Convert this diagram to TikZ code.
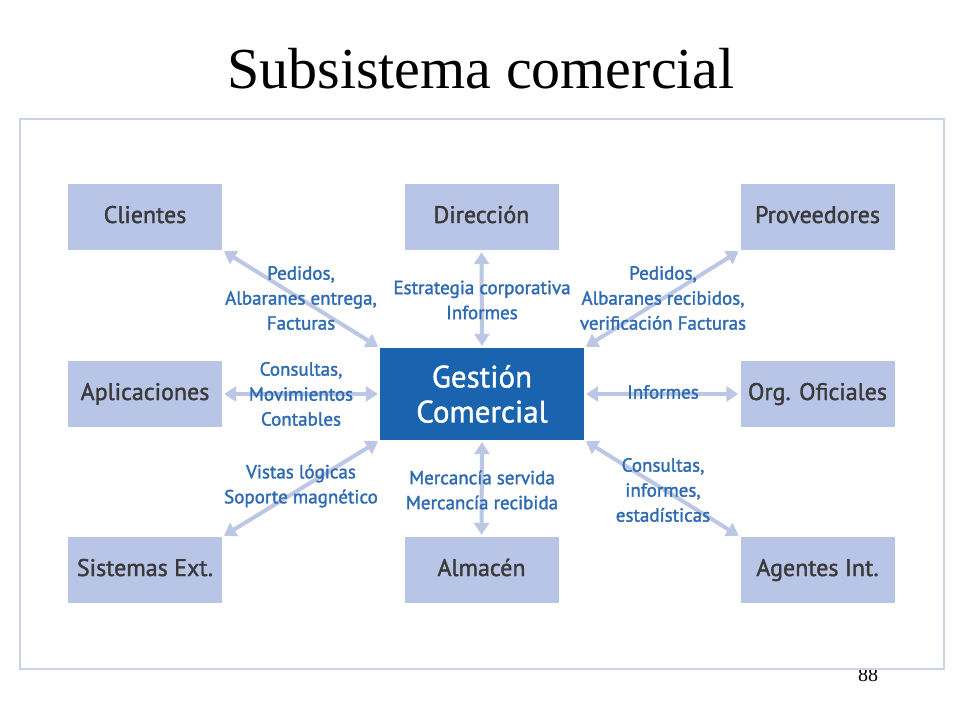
\documentclass[tikz,border=0pt]{standalone}
\usepackage{fontspec}
\setmainfont{Liberation Serif}
\newfontfamily\lblfont{PT Sans}[FakeBold=1.6]
\newfontfamily\ctrfont{PT Sans}[FakeBold=1.2]
\usetikzlibrary{arrows.meta}
\definecolor{boxfill}{HTML}{B9C5E6}
\definecolor{arrowc}{HTML}{BCC7E6}
\definecolor{frame}{HTML}{CDD2EC}
\definecolor{centerblue}{HTML}{1A64AF}
\definecolor{lblblue}{HTML}{2E6BB3}
\definecolor{boxtext}{HTML}{3A3A3A}
\tikzset{
  outerbox/.style={minimum width=154pt,minimum height=66pt,fill=boxfill,draw=none,inner sep=0pt,
     text height=17pt,text depth=5pt,
     text=boxtext,font=\lblfont\fontsize{24}{26}\selectfont},
  centerbox/.style={minimum width=204pt,minimum height=92pt,fill=centerblue,draw=none,inner sep=0pt,
     text=white,align=center,font=\ctrfont\fontsize{31}{35}\selectfont},
  conn/.style={draw=arrowc,line width=4pt,{Triangle[width=15pt,length=12pt]}-{Triangle[width=15pt,length=12pt]},shorten >=2pt,shorten <=2pt},
  lbl/.style={text=lblblue,align=center,font=\lblfont\fontsize{19}{25}\selectfont,inner sep=0pt}
}
\begin{document}
\begin{tikzpicture}[x=1pt,y=-1pt]
\useasboundingbox[fill=white] (0,0) rectangle (960,720);
\node[font=\fontsize{58}{60}\selectfont,anchor=base] (title) at (481,88) {Subsistema comercial};
\node[font=\fontsize{20}{22}\selectfont,anchor=base] (pnum) at (868,681) {88};
\fill[white] (20,119) rectangle (944,669);
\draw[frame,line width=2pt] (20,119) rectangle (944,669);

\node[outerbox] (cli) at (145,217) {Clientes};
\node[outerbox] (dir) at (481.5,217) {Dirección};
\node[outerbox] (pro) at (817.5,217) {Proveedores};
\node[outerbox] (apl) at (145,394) {Aplicaciones};
\node[outerbox] (org) at (817.5,394) {Org. Oficiales};
\node[outerbox] (sis) at (145,570) {Sistemas Ext.};
\node[outerbox] (alm) at (481.5,570) {Almacén};
\node[outerbox] (age) at (817.5,570) {Agentes Int.};
\node[centerbox] (gc) at (482,394) {Gestión\\Comercial};

\draw[conn] (cli.south east) -- (gc.north west);
\draw[conn] (dir.south) -- (gc.north);
\draw[conn] (pro.south west) -- (gc.north east);
\draw[conn] (apl.east) -- (gc.west);
\draw[conn] (org.west) -- (gc.east);
\draw[conn] (sis.north east) -- (gc.south west);
\draw[conn] (alm.north) -- (gc.south);
\draw[conn] (age.north west) -- (gc.south east);

\node[lbl] (l1) at (301,298) {Pedidos,\\Albaranes entrega,\\Facturas};
\node[lbl] (l2) at (482,300) {Estrategia corporativa\\Informes};
\node[lbl] (l3) at (663,298) {Pedidos,\\Albaranes recibidos,\\verificación Facturas};
\node[lbl] (l4) at (301,394) {Consultas,\\Movimientos\\Contables};
\node[lbl] (l5) at (663,392) {Informes};
\node[lbl] (l6) at (301,486) {Vistas lógicas\\Soporte magnético};
\node[lbl] (l7) at (482,490) {Mercancía servida\\Mercancía recibida};
\node[lbl] (l8) at (663,490) {Consultas,\\informes,\\estadísticas};
\end{tikzpicture}
\end{document}
